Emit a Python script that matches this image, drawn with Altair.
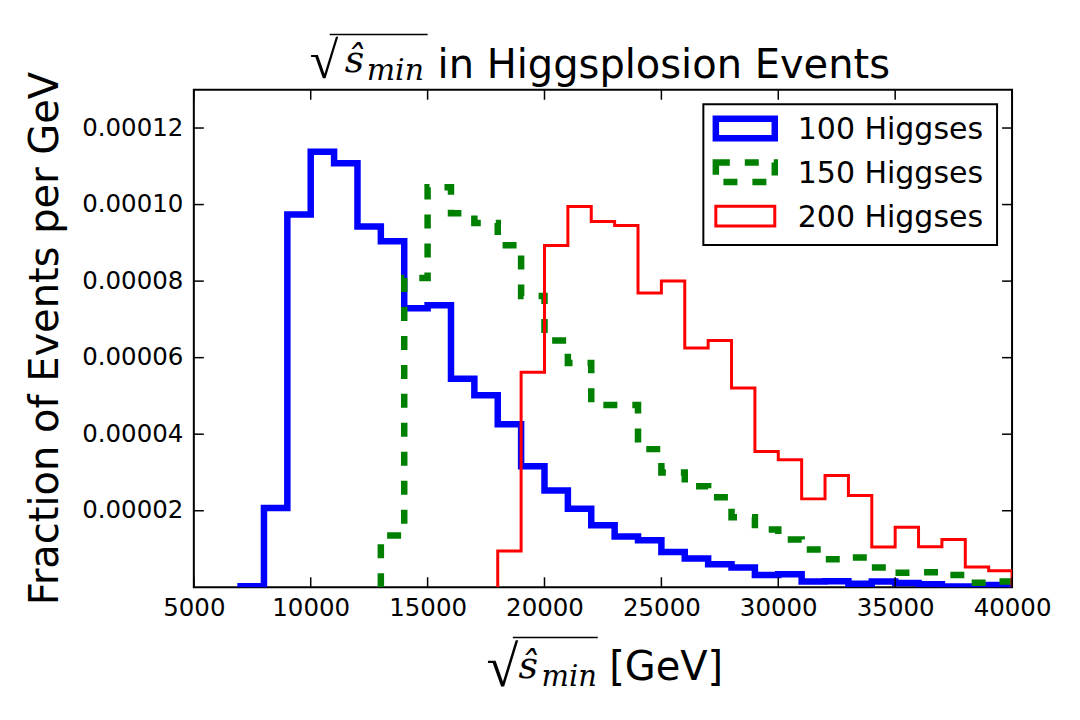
import altair as alt
import pandas as pd

# ---------------- data ----------------
BIN_WIDTH = 1000
series_names = ["100 Higgses", "150 Higgses", "200 Higgses"]
series_colors = ["#0000ff", "#008000", "#ff0000"]

blue_start = 7000
blue_values = [0.0000003, 0.0000207, 0.0000974, 0.0001138, 0.0001108, 0.0000943,
               0.0000904, 0.0000729, 0.0000737, 0.0000545, 0.0000502, 0.0000426,
               0.0000316, 0.0000253, 0.0000205, 0.0000162, 0.0000133, 0.0000123,
               0.0000092, 0.0000075, 0.0000060, 0.0000052, 0.0000032, 0.0000034,
               0.0000015, 0.0000016, 0.0000009, 0.0000015, 0.0000011, 0.0000008,
               0.0000002, 0.0000002, 0.0000006]

green_start = 13000
green_values = [0.0000135, 0.0000808, 0.0001045, 0.0000977, 0.0000952, 0.0000894,
                0.0000761, 0.0000645, 0.0000586, 0.0000476, 0.0000476, 0.0000361,
                0.0000300, 0.0000264, 0.0000235, 0.0000183, 0.0000151, 0.0000125,
                0.0000099, 0.0000073, 0.0000078, 0.0000052, 0.0000038, 0.0000039,
                0.0000032, 0.0000012, 0.0000015]

red_start = 18000
red_values = [0.0000095, 0.0000562, 0.0000893, 0.0000995, 0.0000956, 0.0000945,
              0.0000769, 0.0000800, 0.0000625, 0.0000645, 0.0000521, 0.0000355,
              0.0000333, 0.0000231, 0.0000292, 0.0000240, 0.0000105, 0.0000157,
              0.0000106, 0.0000125, 0.0000053, 0.0000043]

x_ticks = [5000, 10000, 15000, 20000, 25000, 30000, 35000, 40000]
y_ticks = [0.00002, 0.00004, 0.00006, 0.00008, 0.00010, 0.00012]
x_domain = [5000, 40000]
y_domain = [0, 0.00013]

title_text = "in Higgsplosion Events"
xlabel_text = "[GeV]"
ylabel_text = "Fraction of Events per GeV"
math_root = "\u221a"
math_s = "\u015d"
math_sub = "min"


def step_rows(name, start, vals):
    rows = [{"series": name, "x": start, "y": 0.0, "i": 0}]
    for k, v in enumerate(vals):
        rows.append({"series": name, "x": start + k * BIN_WIDTH, "y": v, "i": k + 1})
    rows.append({"series": name, "x": start + len(vals) * BIN_WIDTH, "y": 0.0, "i": len(vals) + 1})
    return pd.DataFrame(rows)


W, H = 819, 498
FONT = "DejaVu Sans"
MATH_FONT = "DejaVu Serif"
ROOT_FONT = "Liberation Serif"

xscale = alt.Scale(domain=x_domain, nice=False, zero=False)
yscale = alt.Scale(domain=y_domain, nice=False, zero=False)
xaxis = alt.Axis(values=x_ticks, format="d", tickSize=0, domain=False, grid=False,
                 labelFontSize=24.5, labelFont=FONT, labelColor="black", labelPadding=9,
                 labelFlush=False, labelOverlap=False, title=None)
yaxis = alt.Axis(values=y_ticks, format=".5f", tickSize=0, domain=False, grid=False,
                 labelFontSize=24.5, labelFont=FONT, labelColor="black", labelPadding=11,
                 labelFlush=False, labelOverlap=False, title=None)

one = pd.DataFrame({"k": [0]})


def hist_layer(df, color, width, dash=None):
    kw = dict(interpolate="step-after", color=color, strokeWidth=width, clip=True,
              strokeJoin="miter", strokeCap="butt")
    if dash:
        kw["strokeDash"] = dash
    return alt.Chart(df).mark_line(**kw).encode(
        x=alt.X("x:Q", scale=xscale, axis=xaxis),
        y=alt.Y("y:Q", scale=yscale, axis=yaxis),
        order=alt.Order("i:Q"),
    )


layers = []
layers.append(hist_layer(step_rows(series_names[0], blue_start, blue_values), series_colors[0], 6.5))
layers.append(hist_layer(step_rows(series_names[1], green_start, green_values), series_colors[1], 6.5, [14, 15]))
layers.append(hist_layer(step_rows(series_names[2], red_start, red_values), series_colors[2], 3))

# inward ticks on all four sides
xt = pd.DataFrame({"t": x_ticks})
yt = pd.DataFrame({"t": y_ticks})
tick_style = dict(color="black", strokeWidth=1.5)
layers.append(alt.Chart(xt).mark_rule(**tick_style).encode(
    x=alt.X("t:Q", scale=xscale, axis=xaxis), y=alt.value(0), y2=alt.value(10)))
layers.append(alt.Chart(xt).mark_rule(**tick_style).encode(
    x=alt.X("t:Q", scale=xscale, axis=xaxis), y=alt.value(H - 10), y2=alt.value(H)))
layers.append(alt.Chart(yt).mark_rule(**tick_style).encode(
    y=alt.Y("t:Q", scale=yscale, axis=yaxis), x=alt.value(0), x2=alt.value(10)))
layers.append(alt.Chart(yt).mark_rule(**tick_style).encode(
    y=alt.Y("t:Q", scale=yscale, axis=yaxis), x=alt.value(W - 10), x2=alt.value(W)))

# legend
layers.append(alt.Chart(one).mark_rect(fill="white", stroke="black", strokeWidth=2).encode(
    x=alt.value(510), x2=alt.value(804), y=alt.value(14.5), y2=alt.value(155.5)))
row_centers = [38.75, 82.6, 126.5]
patch_w = [6.5, 6.5, 3]
patch_dash = [None, [14, 15], None]
for i, name in enumerate(series_names):
    kw = dict(fill="white", stroke=series_colors[i], strokeWidth=patch_w[i], strokeJoin="miter")
    if patch_dash[i]:
        kw["strokeDash"] = patch_dash[i]
    c = row_centers[i]
    layers.append(alt.Chart(one).mark_rect(**kw).encode(
        x=alt.value(522.5), x2=alt.value(581.5), y=alt.value(c - 9.8), y2=alt.value(c + 9.8)))
    layers.append(alt.Chart(one).mark_text(text=name, align="left", baseline="alphabetic",
                                           font=FONT, fontSize=30, color="black").encode(
        x=alt.value(604.5), y=alt.value(c + 11)))


def text_layer(txt, x, y, size, font=FONT, style="normal", align="left", angle=0):
    kw = dict(text=txt, align=align, baseline="alphabetic", font=font, fontSize=size,
              color="black", fontStyle=style)
    if angle:
        kw["angle"] = angle
    return alt.Chart(one).mark_text(**kw).encode(x=alt.value(x), y=alt.value(y))


# title
layers.append(text_layer(title_text, 244, -11.5, 40))
layers.append(text_layer(math_root, 116, -11.5, 52, ROOT_FONT))
layers.append(alt.Chart(one).mark_rule(color="black", strokeWidth=1.5).encode(
    x=alt.value(136), x2=alt.value(234), y=alt.value(-55.2)))
layers.append(text_layer(math_s, 151, -18, 38, MATH_FONT, "italic"))
layers.append(text_layer(math_sub, 173, -9.5, 30, MATH_FONT, "italic"))

# x label
layers.append(text_layer(xlabel_text, 415.7, 590.5, 40))
layers.append(text_layer(math_root, 293, 597, 58, ROOT_FONT))
layers.append(alt.Chart(one).mark_rule(color="black", strokeWidth=1.5).encode(
    x=alt.value(319.3), x2=alt.value(404.3), y=alt.value(548.2)))
layers.append(text_layer(math_s, 325, 589, 38, MATH_FONT, "italic"))
layers.append(text_layer(math_sub, 348, 597, 29, MATH_FONT, "italic"))

# y label
layers.append(text_layer(ylabel_text, -135.5, 249, 40, align="center", angle=270))

chart = alt.layer(*layers).properties(
    width=W, height=H,
    padding={"left": 186, "top": 81.5, "right": 60, "bottom": 120},
    autosize=alt.AutoSizeParams(type="none"),
    background="white",
).configure_view(stroke="black", strokeWidth=2)

chart.save("out.html", embed_options={"renderer": "svg", "actions": False})
